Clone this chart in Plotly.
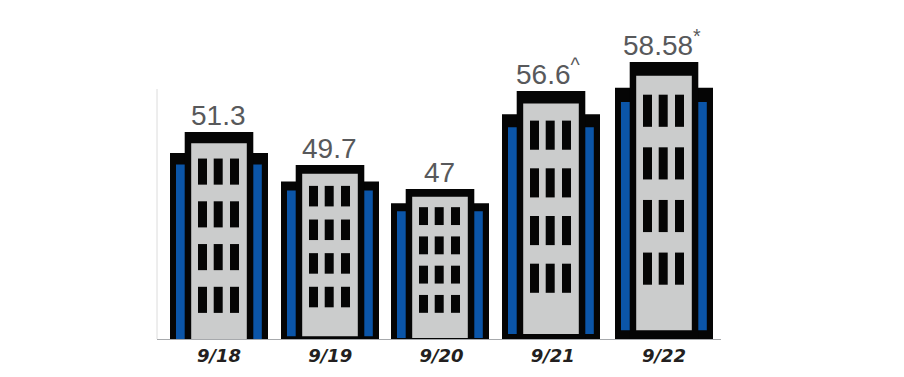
import plotly.graph_objects as go

# --- data ---
periods = ["9/18", "9/19", "9/20", "9/21", "9/22"]
value_labels = ["51.3", "49.7", "47", "56.6<sup>^</sup>", "58.58<sup>*</sup>"]
# Height of each drawn building above the baseline (the pictogram is not to value scale)
drawn_heights = [207, 174, 150, 248, 277]
# Full height of each stretched building icon (some are sunk below the baseline)
icon_heights = [225, 177, 154, 251, 277]

# --- styling ---
BLACK, BLUE, GREY = "#050505", "#0b55a8", "#cbcccc"
TEXT = "#58595b"
W, H = 904, 377
L, R, T, B = 157, 183, 0, 38
UNIT = 111.25                       # pixels per category
NUDGE = [0, -0.25, -1.5, -1.75, 0]  # small hand placement of each building, px
LABEL_SHIFT = [-0.5, -0.5, -1, -2.5, -2.5]


def base_at(frac):
    return [d - frac * h for d, h in zip(drawn_heights, icon_heights)]


def layer(left, right, top_frac, bottom_frac, color):
    """A bar per building: left/right in px from centre, top/bottom as fractions of the icon."""
    tops, bottoms = base_at(top_frac), base_at(bottom_frac)
    return go.Bar(
        x=periods,
        y=[t - b for t, b in zip(tops, bottoms)],
        base=bottoms,
        width=(right - left) / UNIT,
        offset=[(left + n) / UNIT for n in NUDGE],
        marker=dict(color=color, line_width=0),
        hoverinfo="skip",
        showlegend=False,
    )


fig = go.Figure()
fig.add_trace(layer(-49, 49, 0.093, 1.0, BLACK))     # side wings
fig.add_trace(layer(-34.3, 34.3, 0.0, 1.0, BLACK))   # tower
fig.add_trace(layer(-43, -34.3, 0.144, 0.968, BLUE))
fig.add_trace(layer(34.3, 42.8, 0.144, 0.968, BLUE))
fig.add_trace(layer(-27.8, 27.8, 0.05, 0.968, GREY))

for row in range(4):
    top = 0.118 + row * 0.19
    for centre in (-16.5, -0.8, 15.5):
        fig.add_trace(layer(centre - 4.5, centre + 4.5, top, top + 0.116, BLACK))

for i, (p, lab, d) in enumerate(zip(periods, value_labels, drawn_heights)):
    fig.add_annotation(
        x=p, y=d, text=lab, showarrow=False, yanchor="bottom", yshift=-1,
        xshift=NUDGE[i] + LABEL_SHIFT[i],
        font=dict(family="Liberation Sans", size=28, color=TEXT),
    )

fig.add_shape(type="line", xref="paper", yref="y", x0=0, x1=0, y0=0, y1=250,
              line=dict(color="#dcdcdc", width=1), layer="below")

fig.update_layout(
    width=W, height=H, margin=dict(l=L, r=R, t=T, b=B),
    barmode="overlay", paper_bgcolor="white", plot_bgcolor="white",
    showlegend=False,
    xaxis=dict(
        type="category", categoryorder="array", categoryarray=periods,
        range=[-62 / UNIT, 502 / UNIT], showgrid=False, zeroline=False,
        showline=True, linecolor="#a7a9ac", linewidth=1, ticks="", ticklen=0,
        tickfont=dict(family="DejaVu Sans", size=18, color="#231f20",
                      weight="bold", style="italic"),
    ),
    yaxis=dict(range=[0, H - B], showgrid=False, zeroline=False,
               showticklabels=False, ticks="", showline=False),
)

fig.write_html("out.html", config={"displayModeBar": False},
               post_script="document.body.style.margin='0';")
